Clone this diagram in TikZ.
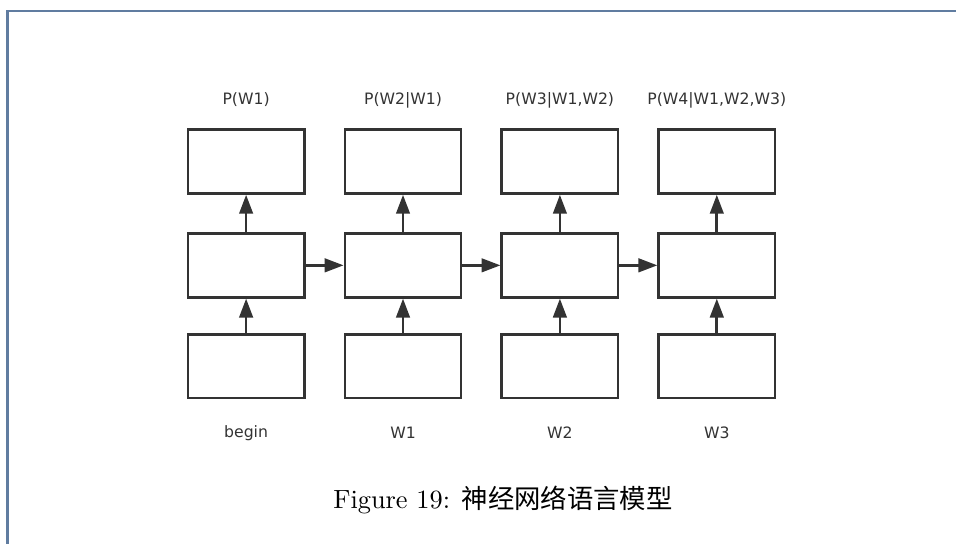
\documentclass[tikz,border=0pt]{standalone}
\usepackage{fontspec}
\newfontfamily\cjk{Noto Sans CJK SC}
\newfontfamily\lblfont{DejaVu Sans}
\usepackage{tikz}
\usetikzlibrary{arrows.meta, positioning, calc}

\definecolor{boxgray}{HTML}{333333}
\definecolor{frameblue}{RGB}{96,124,160}

\begin{document}
\begin{tikzpicture}[>={Triangle[length=7pt, width=5pt]},
  cell/.style={rectangle, minimum width=1.51cm, minimum height=0.83cm,
               draw=boxgray, line width=1pt, inner sep=0pt},
  lbl/.style={font=\lblfont\fontsize{5.8}{7}\selectfont, text=boxgray},
  arr/.style={->, line width=1pt, draw=boxgray},
]

\useasboundingbox (0,0) rectangle (12.43,7.07);

%% ── Page frame ──────────────────────────────────────────────────────
\draw[frameblue, line width=0.9pt] (0.10,0) -- (0.10,6.93) -- (12.43,6.93);

%% ── ROW 1 (y=4.97): outputs ─────────────────────────────────────────
\node[cell] (out1) at (3.20, 4.97) {};
\node[cell] (out2) at (5.24, 4.97) {};
\node[cell] (out3) at (7.28, 4.97) {};
\node[cell] (out4) at (9.32, 4.97) {};

%% ── ROW 2 (y=3.62): hidden ──────────────────────────────────────────
\node[cell] (hid1) at (3.20, 3.62) {};
\node[cell] (hid2) at (5.24, 3.62) {};
\node[cell] (hid3) at (7.28, 3.62) {};
\node[cell] (hid4) at (9.32, 3.62) {};

%% ── ROW 3 (y=2.31): inputs ──────────────────────────────────────────
\node[cell] (in1) at (3.20, 2.31) {};
\node[cell] (in2) at (5.24, 2.31) {};
\node[cell] (in3) at (7.28, 2.31) {};
\node[cell] (in4) at (9.32, 2.31) {};

%% ── Labels ──────────────────────────────────────────────────────────
\node[lbl] (p1) at (3.20, 5.77) {P(W1)};
\node[lbl] (p2) at (5.24, 5.77) {P(W2|W1)};
\node[lbl] (p3) at (7.28, 5.77) {P(W3|W1,W2)};
\node[lbl] (p4) at (9.32, 5.77) {P(W4|W1,W2,W3)};

\node[lbl] (w0) at (3.20, 1.44) {begin};
\node[lbl] (w1) at (5.24, 1.44) {W1};
\node[lbl] (w2) at (7.28, 1.44) {W2};
\node[lbl] (w3) at (9.32, 1.44) {W3};

%% ── Vertical arrows ─────────────────────────────────────────────────
\draw[arr] (in1) -- (hid1);
\draw[arr] (in2) -- (hid2);
\draw[arr] (in3) -- (hid3);
\draw[arr] (in4) -- (hid4);
\draw[arr] (hid1) -- (out1);
\draw[arr] (hid2) -- (out2);
\draw[arr] (hid3) -- (out3);
\draw[arr] (hid4) -- (out4);

%% ── Recurrent arrows ────────────────────────────────────────────────
\draw[arr] (hid1) -- (hid2);
\draw[arr] (hid2) -- (hid3);
\draw[arr] (hid3) -- (hid4);

%% ── Caption ─────────────────────────────────────────────────────────
\node[font=\fontsize{9.75}{12}\selectfont] (cap) at (6.54, 0.57)
     {Figure 19: {\cjk 神经网络语言模型}};

\end{tikzpicture}
\end{document}
